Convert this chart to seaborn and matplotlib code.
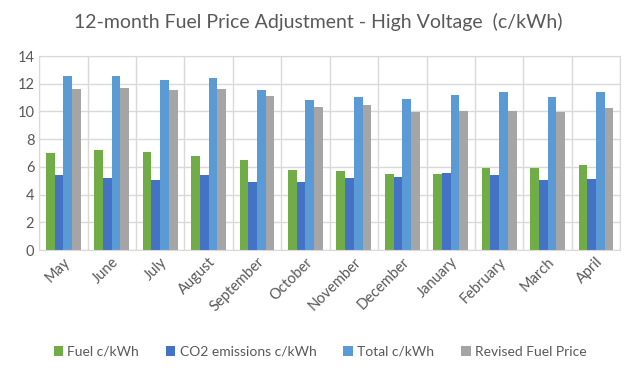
import pandas as pd
import numpy as np
import matplotlib.pyplot as plt
import seaborn as sns

# valeurs
months = ['May', 'June', 'July', 'August', 'September', 'October', 'November',
          'December', 'January', 'February', 'March', 'April']
fuel = [7.0, 7.22, 7.07, 6.78, 6.5, 5.77, 5.7, 5.48, 5.48, 5.92, 5.92, 6.13]
co2 = [5.41, 5.2, 5.05, 5.41, 4.91, 4.91, 5.2, 5.27, 5.56, 5.41, 5.05, 5.12]
total = [12.56, 12.56, 12.27, 12.41, 11.55, 10.83, 11.04, 10.9, 11.19, 11.4, 11.04, 11.4]
revised = [11.62, 11.69, 11.55, 11.62, 11.11, 10.32, 10.46, 9.96, 10.03, 10.03, 9.96, 10.25]

series = ['Fuel c/kWh', 'CO2 emissions c/kWh', 'Total c/kWh', 'Revised Fuel Price']
colors = ['#70AD47', '#4472C4', '#5B9BD5', '#A5A5A5']

df = pd.DataFrame({'Month': months, series[0]: fuel, series[1]: co2,
                   series[2]: total, series[3]: revised})
dfLong = df.melt(id_vars='Month', var_name='Series', value_name='Value')

sns.set_style('white')
plt.rcParams['font.family'] = ['Lato', 'DejaVu Sans']

fig = plt.figure(figsize=(6.31, 3.76), dpi=100)
ax = fig.add_axes([0.062, 0.335, 0.921, 0.516])

sns.barplot(data=dfLong, x='Month', y='Value', hue='Series', order=months,
            hue_order=series, palette=colors, width=0.72, saturation=1,
            linewidth=0, ax=ax)

ax.set_ylim(0, 14)
ax.set_yticks(range(0, 15, 2))
ax.set_xlim(-0.5, len(months) - 0.5)
ax.set_xticks(np.arange(-0.5, len(months), 1), minor=True)
ax.grid(axis='y', color='#D9D9D9', linewidth=1)
ax.grid(axis='x', which='minor', color='#D9D9D9', linewidth=1)
ax.set_axisbelow(True)
for s in ax.spines.values():
    s.set_color('#D9D9D9')
ax.tick_params(axis='both', which='both', length=0, colors='#595959', labelsize=10.5)
plt.setp(ax.get_xticklabels(), rotation=45, ha='right', rotation_mode='anchor')
ax.set_xlabel('')
ax.set_ylabel('')

fig.text(318 / 631, 1 - 22 / 376, '12-month Fuel Price Adjustment - High Voltage  (c/kWh)',
         color='#595959', fontsize=14, ha='center', va='center')

handles, labels = ax.get_legend_handles_labels()
ax.get_legend().remove()
fig.legend(handles, labels, loc='center', bbox_to_anchor=(320 / 631, 1 - 352 / 376),
           ncol=4, frameon=False, fontsize=10, handlelength=0.68,
           handleheight=0.68, handletextpad=0.3, columnspacing=1.95,
           labelcolor='#595959', borderpad=0)

plt.savefig('out.png', dpi=100)
